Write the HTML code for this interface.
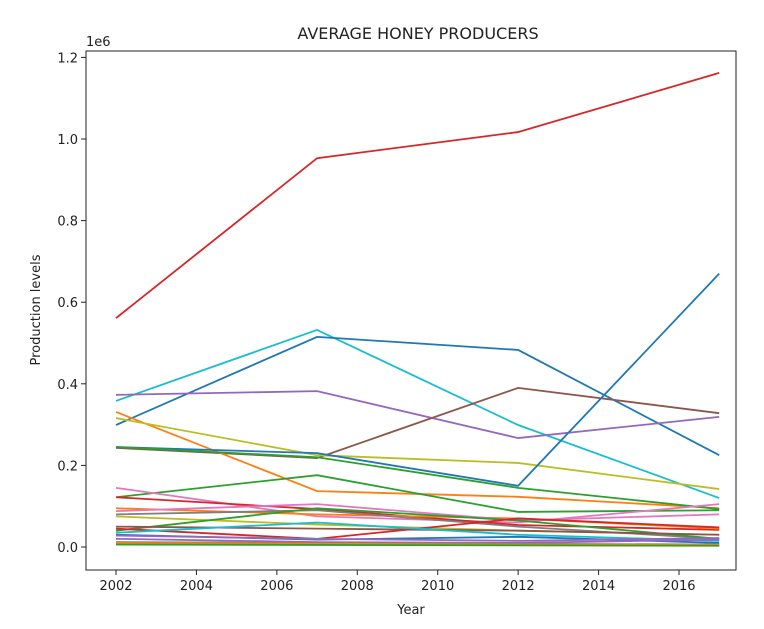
<!DOCTYPE html>
<html><head><meta charset="utf-8"><style>
body{margin:0;background:#fff;}
svg{display:block;font-family:"DejaVu Sans","Liberation Sans",sans-serif;}
</style></head><body>
<svg id="chart" width="764" height="629" viewBox="0 0 764 629" xmlns="http://www.w3.org/2000/svg">
<rect width="764" height="629" fill="#fff"/>
<text x="418" y="39" text-anchor="middle" font-size="16" fill="#222">AVERAGE HONEY PRODUCERS</text>
<text x="411" y="614" text-anchor="middle" font-size="13" fill="#222">Year</text>
<text transform="translate(40,310) rotate(-90)" text-anchor="middle" font-size="13" fill="#222">Production levels</text>
<text x="86" y="46" font-size="13" fill="#222">1e6</text>
<g id="marks"></g>
<g id="axes"></g>
</svg>
<script>
const years = [2002, 2007, 2012, 2017];
const yTicks = [0, 0.2, 0.4, 0.6, 0.8, 1.0, 1.2];
const yTickLabels = ["0.0","0.2","0.4","0.6","0.8","1.0","1.2"];
const xTicks = [2002, 2004, 2006, 2008, 2010, 2012, 2014, 2016];
// values in millions (1e6)
const sRed = [0.561, 0.953, 1.017, 1.162];
const sCyan = [0.358, 0.532, 0.299, 0.120];
const sBlue1 = [0.299, 0.515, 0.483, 0.225];
const sPurple = [0.373, 0.382, 0.267, 0.319];
const sBrown = [0.243, 0.218, 0.390, 0.328];
const sOrange = [0.331, 0.137, 0.123, 0.095];
const sOlive = [0.316, 0.225, 0.206, 0.142];
const sBlue2 = [0.245, 0.230, 0.150, 0.670];
const sGreen1 = [0.245, 0.220, 0.145, 0.093];
const sGreen2 = [0.122, 0.176, 0.086, 0.090];
const sPink1 = [0.145, 0.075, 0.060, 0.105];
const sRed2 = [0.122, 0.093, 0.054, 0.042];
const sOrange2 = [0.095, 0.080, 0.070, 0.045];
const sPink2 = [0.088, 0.105, 0.065, 0.080];
const sOlive2 = [0.075, 0.055, 0.040, 0.030];
const sGray = [0.080, 0.090, 0.050, 0.020];
const sGreen3 = [0.040, 0.095, 0.065, 0.020];
const sBrown2 = [0.050, 0.045, 0.040, 0.030];
const sRed3 = [0.045, 0.020, 0.070, 0.048];
const sCyan2 = [0.035, 0.060, 0.030, 0.015];
const sBlue3 = [0.030, 0.018, 0.025, 0.010];
const sPurple2 = [0.028, 0.020, 0.015, 0.022];
const sPurple3 = [0.020, 0.012, 0.010, 0.018];
const sGray2 = [0.012, 0.010, 0.008, 0.006];
const sOrange3 = [0.010, 0.008, 0.006, 0.005];
const sGreen4 = [0.006, 0.005, 0.004, 0.003];
const seriesList = [
 [sRed,"#d62728"],[sCyan,"#17becf"],[sBlue1,"#1f77b4"],[sPurple,"#9467bd"],[sBrown,"#8c564b"],
 [sOrange,"#ff7f0e"],[sOlive,"#bcbd22"],[sBlue2,"#1f77b4"],[sGreen1,"#2ca02c"],[sGreen2,"#2ca02c"],
 [sPink1,"#e377c2"],[sRed2,"#d62728"],[sOrange2,"#ff7f0e"],[sPink2,"#e377c2"],[sOlive2,"#bcbd22"],
 [sGray,"#7f7f7f"],[sGreen3,"#2ca02c"],[sBrown2,"#8c564b"],[sRed3,"#d62728"],[sCyan2,"#17becf"],
 [sBlue3,"#1f77b4"],[sPurple2,"#9467bd"],[sPurple3,"#9467bd"],[sGray2,"#7f7f7f"],[sOrange3,"#ff7f0e"],[sGreen4,"#2ca02c"]
];
const L=86,R=736,T=51,B=570;
function xs(v){return 116+(v-2002)*(679-116)/14;}
function ys(v){return 547-v*408;}
const NS="http://www.w3.org/2000/svg";
const marks=document.getElementById('marks');
seriesList.forEach((s,i)=>{
 const p=document.createElementNS(NS,'polyline');
 
 
 p.setAttribute('points',s[0].map((v,j)=>xs(years[j])+','+ys(v)).join(' '));
 p.setAttribute('fill','none');p.setAttribute('stroke',s[1]);p.setAttribute('stroke-width','1.8');
 marks.appendChild(p);
});
const axes=document.getElementById('axes');
const frame=document.createElementNS(NS,'rect');


frame.setAttribute('x',L);frame.setAttribute('y',T);frame.setAttribute('width',R-L);frame.setAttribute('height',B-T);
frame.setAttribute('fill','none');frame.setAttribute('stroke','#222');frame.setAttribute('stroke-width','1');
axes.appendChild(frame);
yTicks.forEach((v,i)=>{
 const y=ys(v);
 const t=document.createElementNS(NS,'line');
 
 
 t.setAttribute('x1',L-5);t.setAttribute('x2',L);t.setAttribute('y1',y);t.setAttribute('y2',y);t.setAttribute('stroke','#222');
 axes.appendChild(t);
 const tx=document.createElementNS(NS,'text');
 
 
 tx.setAttribute('x',L-8);tx.setAttribute('y',y+5);tx.setAttribute('text-anchor','end');tx.setAttribute('font-size','13');tx.setAttribute('fill','#222');
 tx.textContent=yTickLabels[i];axes.appendChild(tx);
});
xTicks.forEach(v=>{
 const x=xs(v);
 const t=document.createElementNS(NS,'line');
 
 
 t.setAttribute('x1',x);t.setAttribute('x2',x);t.setAttribute('y1',B);t.setAttribute('y2',B+5);t.setAttribute('stroke','#222');
 axes.appendChild(t);
 const tx=document.createElementNS(NS,'text');
 
 
 tx.setAttribute('x',x);tx.setAttribute('y',B+20);tx.setAttribute('text-anchor','middle');tx.setAttribute('font-size','13');tx.setAttribute('fill','#222');
 tx.textContent=v;axes.appendChild(tx);
});
</script>
</body></html>
